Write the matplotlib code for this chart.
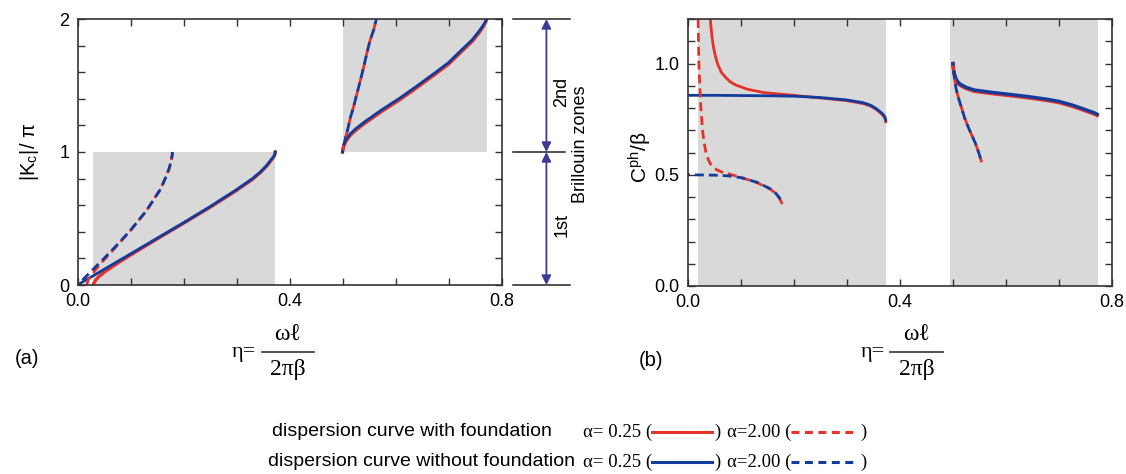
import numpy as np
import matplotlib
matplotlib.use('Agg')
import matplotlib.pyplot as plt
from matplotlib.lines import Line2D
from matplotlib.patches import Rectangle

plt.rcParams['font.family'] = ['Liberation Sans', 'DejaVu Sans']
plt.rcParams['mathtext.fontset'] = 'stix'

RED = '#e5332a'
BLUE = '#123c9c'
GRAY = '#d9d9d9'
ARROW = '#3d3a99'
SERIF = ['Liberation Serif', 'DejaVu Serif']

# ---- (a) normalised wavenumber |Kc|/pi against eta ----
# first zone, alpha = 0.25
a1_eta_nof = [0, 0.02, 0.05, 0.10, 0.15, 0.20, 0.25, 0.30, 0.33, 0.345, 0.356, 0.362,
              0.366, 0.370, 0.372, 0.3728, 0.373]
a1_k_nof = [0, 0.047, 0.117, 0.234, 0.351, 0.468, 0.589, 0.717, 0.80, 0.85, 0.895, 0.925,
            0.945, 0.965, 0.98, 0.99, 1.0]
a1_eta_f = [0.030, 0.0302, 0.031, 0.0325, 0.034, 0.037, 0.040, 0.050, 0.065, 0.080, 0.100,
            0.130, 0.160, 0.200, 0.25, 0.30, 0.33, 0.345, 0.356, 0.362, 0.366, 0.370,
            0.372, 0.3728, 0.373]
a1_k_f = [0, 0.008, 0.015, 0.025, 0.035, 0.049, 0.062, 0.095, 0.136, 0.175, 0.225,
          0.297, 0.370, 0.464, 0.584, 0.711, 0.794, 0.845, 0.89, 0.92, 0.94, 0.962,
          0.978, 0.989, 1.0]
# first zone, alpha = 2.00
a1_eta_nof2 = [0, 0.025, 0.05, 0.075, 0.10, 0.13, 0.157, 0.165, 0.1725, 0.176, 0.178,
               0.1788, 0.179]
a1_k_nof2 = [0, 0.10, 0.20, 0.303, 0.411, 0.558, 0.722, 0.795, 0.869, 0.92, 0.96,
             0.985, 1.0]
a1_eta_f2 = [0.0176, 0.0178, 0.019, 0.0205, 0.0243, 0.0274, 0.0338, 0.042, 0.056, 0.075,
             0.10, 0.13, 0.157, 0.165, 0.1725, 0.176, 0.178, 0.1788, 0.179]
a1_k_f2 = [0, 0.01, 0.02, 0.041, 0.061, 0.078, 0.113, 0.153, 0.215, 0.297,
           0.41, 0.559, 0.725, 0.797, 0.871, 0.92, 0.96, 0.985, 1.0]
# second zone, alpha = 0.25
a2_eta_nof = [0.5, 0.5003, 0.501, 0.502, 0.504, 0.506, 0.51, 0.515, 0.525, 0.54, 0.575,
              0.608, 0.64, 0.676, 0.70, 0.724, 0.745, 0.758, 0.765, 0.769, 0.771, 0.772]
a2_k_nof = [1.0, 1.012, 1.025, 1.046, 1.07, 1.088, 1.112, 1.138, 1.175, 1.222, 1.32,
            1.405, 1.495, 1.60, 1.672, 1.765, 1.845, 1.91, 1.95, 1.975, 1.99, 2.0]
a2_eta_f = [0.5, 0.5003, 0.501, 0.502, 0.504, 0.506, 0.51, 0.515, 0.525, 0.54, 0.575,
            0.608, 0.64, 0.676, 0.70, 0.724, 0.745, 0.758, 0.765, 0.769, 0.771, 0.772]
a2_k_f = [1.0, 1.01, 1.02, 1.038, 1.06, 1.078, 1.101, 1.127, 1.163, 1.21, 1.308,
          1.393, 1.483, 1.588, 1.66, 1.753, 1.833, 1.898, 1.94, 1.968, 1.986, 2.0]
# second zone, alpha = 2.00
a2_eta_2 = [0.5, 0.5005, 0.501, 0.503, 0.505, 0.508, 0.511, 0.515, 0.521, 0.528, 0.534,
            0.540, 0.546, 0.552, 0.559, 0.562, 0.564]
a2_k_2 = [1.0, 1.02, 1.035, 1.06, 1.095, 1.14, 1.19, 1.26, 1.342, 1.45, 1.543,
          1.64, 1.744, 1.84, 1.92, 1.97, 2.0]

# pass bands (eta range, k range)
a_band_eta = [(0.030, 0.373), (0.500, 0.773)]
a_band_k = [(0, 1), (1, 2)]

# ---- (b) phase velocity Cph/beta against eta ----
b1_eta_nof = [0, 0.05, 0.10, 0.15, 0.20, 0.25, 0.30, 0.33, 0.345, 0.356, 0.362, 0.366,
              0.370, 0.372, 0.373]
b1_c_nof = [0.857, 0.857, 0.856, 0.855, 0.853, 0.847, 0.836, 0.824, 0.812, 0.796, 0.784,
            0.776, 0.766, 0.757, 0.746]
b1_eta_f = [0.042, 0.045, 0.048, 0.052, 0.056, 0.063, 0.0716, 0.080, 0.0905, 0.1126, 0.144,
            0.176, 0.20, 0.25, 0.30, 0.33, 0.345, 0.356, 0.362, 0.366, 0.370, 0.372, 0.373]
b1_c_f = [1.2, 1.125, 1.073, 1.03, 0.997, 0.96, 0.936, 0.917, 0.903, 0.884, 0.869,
          0.862, 0.857, 0.845, 0.833, 0.820, 0.808, 0.792, 0.780, 0.771, 0.760, 0.750, 0.738]
b1_eta_nof2 = [0, 0.05, 0.075, 0.10, 0.13, 0.157, 0.165, 0.1725, 0.178]
b1_c_nof2 = [0.5, 0.498, 0.495, 0.487, 0.466, 0.435, 0.418, 0.397, 0.368]
b1_eta_f2 = [0.019, 0.0198, 0.0205, 0.0222, 0.0243, 0.0274, 0.030, 0.0338, 0.038, 0.042,
             0.048, 0.056, 0.065, 0.075, 0.10, 0.13, 0.157, 0.165, 0.1725, 0.177, 0.179]
b1_c_f2 = [1.2, 1.1, 1.0, 0.9, 0.8, 0.7, 0.65, 0.6, 0.57, 0.55,
           0.533, 0.52, 0.511, 0.505, 0.488, 0.465, 0.433, 0.416, 0.395, 0.372, 0.35]
b2_eta_nof = [0.5, 0.5005, 0.501, 0.502, 0.504, 0.506, 0.51, 0.515, 0.525, 0.54, 0.575,
              0.608, 0.64, 0.676, 0.70, 0.724, 0.745, 0.758, 0.765, 0.769, 0.772]
b2_c_nof = [1.0, 0.985, 0.975, 0.96, 0.943, 0.93, 0.915, 0.905, 0.893, 0.881, 0.87,
            0.861, 0.852, 0.84, 0.83, 0.814, 0.797, 0.786, 0.780, 0.776, 0.772]
b2_eta_f = [0.5, 0.5005, 0.501, 0.502, 0.504, 0.506, 0.51, 0.515, 0.525, 0.54, 0.575,
            0.608, 0.64, 0.676, 0.70, 0.724, 0.745, 0.758, 0.765, 0.769, 0.772]
b2_c_f = [1.0, 0.98, 0.97, 0.953, 0.936, 0.924, 0.909, 0.899, 0.887, 0.875, 0.864,
          0.855, 0.846, 0.834, 0.824, 0.808, 0.791, 0.780, 0.774, 0.770, 0.766]
b2_eta_2 = [0.5, 0.502, 0.506, 0.511, 0.517, 0.522, 0.528, 0.535, 0.542, 0.547, 0.551, 0.554]
b2_c_2 = [1.0, 0.95, 0.884, 0.84, 0.794, 0.755, 0.718, 0.68, 0.643, 0.61, 0.58, 0.556]

b_band_eta = [(0.018, 0.373), (0.495, 0.773)]

W, H = 1126, 474
fig = plt.figure(figsize=(W / 100, H / 100), dpi=100)


def box(x0, y0, x1, y1):
    return [x0 / W, 1 - y1 / H, (x1 - x0) / W, (y1 - y0) / H]


def style(ax):
    for s in ax.spines.values():
        s.set_linewidth(1.2)
        s.set_color('#333333')
    ax.tick_params(direction='in', top=True, right=True, length=5, width=1,
                   color='#333333', labelsize=13, pad=6)


def eta_label(x_eta, x_bar0, x_bar1, y_bar):
    # eta = omega*l / (2*pi*beta), written as a stacked fraction
    fy = 1 - y_bar / H
    cx = (x_bar0 + x_bar1) / 2 / W
    fig.text(x_eta / W, fy, 'η=', ha='left', va='center', fontsize=16, family=SERIF)
    fig.text(cx, fy + 17 / H, 'ωℓ', ha='center', va='center', fontsize=17, family=SERIF)
    fig.add_artist(Line2D([x_bar0 / W, x_bar1 / W], [fy, fy], color='#444444', lw=1.3))
    fig.text(cx, fy - 18 / H, '2πβ', ha='center', va='center', fontsize=17, family=SERIF)


LW = 2.0
DASH_R = (0, (3.2, 1.8))
DASH_B = (2.5, (3.2, 1.8))

# panel (a)
axa = fig.add_axes(box(77.5, 19, 501.5, 285))
for (e0, e1), (k0, k1) in zip(a_band_eta, a_band_k):
    axa.add_patch(Rectangle((e0, k0), e1 - e0, k1 - k0, color=GRAY, lw=0, zorder=0))
axa.plot(a1_eta_f, a1_k_f, color=RED, lw=LW + 0.4)
axa.plot(a1_eta_nof, a1_k_nof, color=BLUE, lw=LW)
axa.plot(a2_eta_f, a2_k_f, color=RED, lw=LW + 0.4)
axa.plot(a2_eta_nof, a2_k_nof, color=BLUE, lw=LW)
axa.plot(a1_eta_f2, a1_k_f2, color=RED, lw=LW, ls=DASH_R)
axa.plot(a1_eta_nof2, a1_k_nof2, color=BLUE, lw=LW, ls=DASH_B)
axa.plot(a2_eta_2, a2_k_2, color=RED, lw=LW, ls=DASH_R)
axa.plot(a2_eta_2, a2_k_2, color=BLUE, lw=LW, ls=DASH_B)
axa.set_xlim(0, 0.8)
axa.set_ylim(0, 2)
axa.set_xticks(np.arange(9) * 0.1)
axa.set_xticklabels(['0.0', '', '', '', '0.4', '', '', '', '0.8'])
axa.set_yticks(np.arange(11) * 0.2)
axa.set_yticklabels(['0', '', '', '', '', '1', '', '', '', '', '2'])
style(axa)
fig.text(30 / W, 1 - 152 / H, '|K$_\\mathregular{c}$|/ π', rotation=90,
         ha='center', va='center', fontsize=14.5)

# panel (b)
axb = fig.add_axes(box(688, 19, 1112, 286))
for e0, e1 in b_band_eta:
    axb.axvspan(e0, e1, color=GRAY, lw=0, zorder=0)
axb.plot(b1_eta_f, b1_c_f, color=RED, lw=LW)
axb.plot(b1_eta_nof, b1_c_nof, color=BLUE, lw=LW)
axb.plot(b2_eta_f, b2_c_f, color=RED, lw=LW + 0.4)
axb.plot(b2_eta_nof, b2_c_nof, color=BLUE, lw=LW + 0.4)
axb.plot(b1_eta_f2, b1_c_f2, color=RED, lw=LW, ls=DASH_R)
axb.plot(b1_eta_nof2, b1_c_nof2, color=BLUE, lw=LW, ls=DASH_B)
axb.plot(b2_eta_2, b2_c_2, color=RED, lw=LW, ls=DASH_R)
axb.plot(b2_eta_2, b2_c_2, color=BLUE, lw=LW, ls=DASH_B)
axb.set_xlim(0, 0.8)
axb.set_ylim(0, 1.2)
axb.set_xticks(np.arange(9) * 0.1)
axb.set_xticklabels(['0.0', '', '', '', '0.4', '', '', '', '0.8'])
axb.set_yticks(np.arange(13) * 0.1)
axb.set_yticklabels(['0.0', '', '', '', '', '0.5', '', '', '', '', '1.0', '', ''])
style(axb)
fig.text(640 / W, 1 - 157 / H, 'C$^\\mathregular{ph}$/β', rotation=90,
         ha='center', va='center', fontsize=15)

# Brillouin zone brackets beside panel (a)
axz = fig.add_axes(box(505, 19, 595, 285))
axz.set_xlim(0, 1)
axz.set_ylim(0, 2)
axz.axis('off')
for yk, x1 in [(0, 0.72), (1, 0.67), (2, 0.72)]:
    axz.plot([0.09, x1], [yk, yk], color='#222222', lw=1.1, clip_on=False)
for y0, y1 in [(1, 2), (0, 1)]:
    axz.annotate('', xy=(0.46, y1), xytext=(0.46, y0),
                 arrowprops=dict(arrowstyle='<|-|>', color=ARROW, lw=1.3,
                                 mutation_scale=14, shrinkA=0, shrinkB=0))
axz.text(0.63, 1.45, '2nd', rotation=90, ha='center', va='center', fontsize=13)
axz.text(0.63, 0.45, '1st', rotation=90, ha='center', va='center', fontsize=13)
axz.text(0.84, 1.06, 'Brillouin zones', rotation=90, ha='center', va='center', fontsize=13)

# x labels and panel tags
eta_label(232, 262, 314, 352)
eta_label(861, 890, 943, 352)
fig.text(27 / W, 1 - 358 / H, '(a)', ha='center', va='center', fontsize=14.5)
fig.text(651 / W, 1 - 360 / H, '(b)', ha='center', va='center', fontsize=14.5)

# key
rows = [(432, 'dispersion curve with foundation', RED, 272),
        (462, 'dispersion curve without foundation', BLUE, 268)]
for y, label, col, x0 in rows:
    fy = 1 - y / H
    fig.text(x0 / W, fy, label, ha='left', va='center', fontsize=14)
    fig.text(583 / W, fy, 'α= 0.25 (', ha='left', va='center', fontsize=13.5, family=SERIF)
    fig.add_artist(Line2D([652 / W, 712 / W], [fy, fy], color=col, lw=2.2))
    fig.text(714 / W, fy, ')', ha='left', va='center', fontsize=13.5, family=SERIF)
    fig.text(727 / W, fy, 'α=2.00 (', ha='left', va='center', fontsize=13.5, family=SERIF)
    fig.add_artist(Line2D([791 / W, 858 / W], [fy, fy], color=col, lw=2.2,
                          ls=(0, (2.6, 1.8))))
    fig.text(860 / W, fy, ')', ha='left', va='center', fontsize=13.5, family=SERIF)

fig.savefig('out.png', dpi=100)
